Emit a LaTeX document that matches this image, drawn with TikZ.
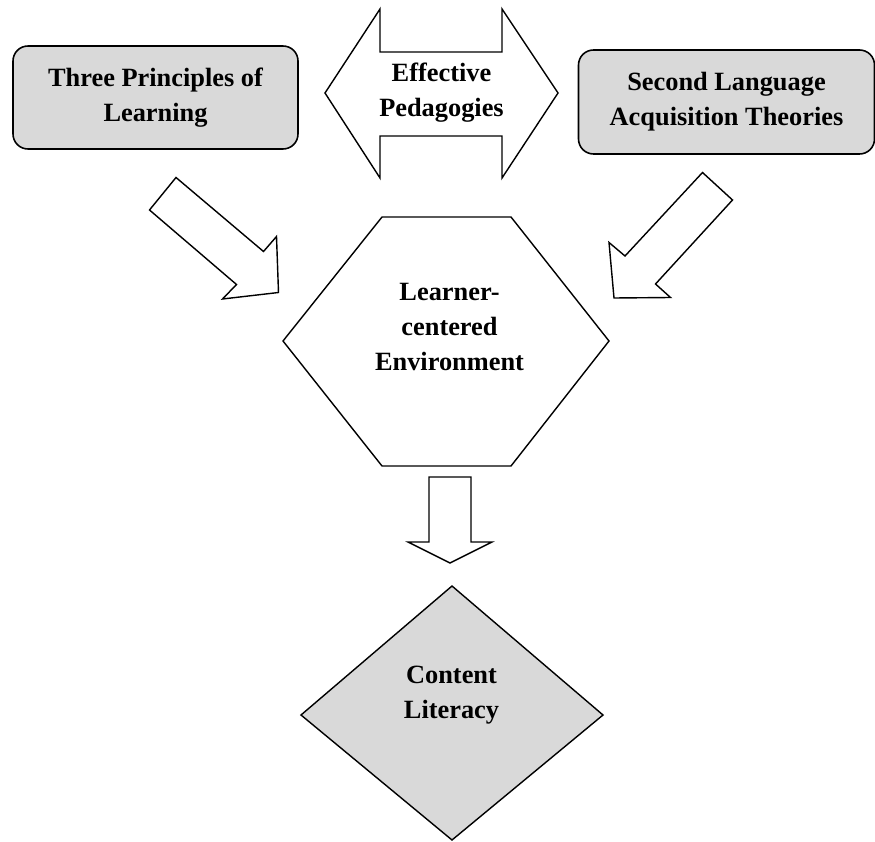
\documentclass[tikz,border=0pt]{standalone}
\usepackage{fontspec}
\setmainfont{Liberation Serif}
\usetikzlibrary{calc, positioning}
\definecolor{boxgray}{HTML}{D9D9D9}
\tikzset{
  greybox/.style={draw, line width=0.9pt, fill=boxgray, rounded corners=0.3cm, inner sep=0pt},
  blockarrow/.style={draw, line width=0.8pt, fill=white, line join=miter},
  txt/.style={font=\fontsize{15}{20}\selectfont\bfseries, align=center, inner sep=0pt}
}

\begin{document}
\begin{tikzpicture}
\useasboundingbox (0,0) rectangle (17.5,16.82);

% top row
\node[greybox, minimum width=5.7cm, minimum height=2.06cm] (principles) at (3.11,14.87) {};
\node[txt] (principlestxt) at (principles) {Three Principles of\\Learning};
\node[greybox, minimum width=5.92cm, minimum height=2.08cm] (sla) at (14.53,14.78) {};
\node[txt] (slatxt) at (sla) {Second Language\\Acquisition Theories};

\draw[blockarrow] (6.5,14.96) -- (7.6,16.64) -- (7.6,15.78) -- (10.04,15.78) -- (10.04,16.64)
  -- (11.16,14.96) -- (10.04,13.26) -- (10.04,14.1) -- (7.6,14.1) -- (7.6,13.26) -- cycle;
\node[txt] (pedagogies) at (8.83,14.96) {Effective\\Pedagogies};

% arrows into the hexagon
\draw[blockarrow] (3.52,13.27) -- (5.27,11.79) -- (5.53,12.09) -- (5.57,10.97) -- (4.45,10.84)
  -- (4.73,11.13) -- (2.99,12.62) -- cycle;
\draw[blockarrow] (14.05,13.37) -- (14.65,12.82) -- (13.11,11.14) -- (13.41,10.87) -- (12.28,10.86)
  -- (12.18,11.97) -- (12.5,11.7) -- cycle;

% hexagon
\draw[blockarrow] (7.64,12.48) -- (10.22,12.48) -- (12.18,10) -- (10.22,7.5) -- (7.64,7.5) -- (5.66,10) -- cycle;
\node[txt] (learner) at (8.99,10.28) {Learner-\\centered\\Environment};

% down to the diamond
\draw[blockarrow] (8.58,7.28) -- (9.42,7.28) -- (9.42,5.98) -- (9.84,5.98) -- (9,5.56)
  -- (8.16,5.98) -- (8.58,5.98) -- cycle;
\draw[line width=0.8pt, fill=boxgray] (9.04,5.1) -- (12.06,2.52) -- (9.04,0.02) -- (6.02,2.52) -- cycle;
\node[txt] (literacy) at (9.03,2.92) {Content\\Literacy};
\end{tikzpicture}
\end{document}
